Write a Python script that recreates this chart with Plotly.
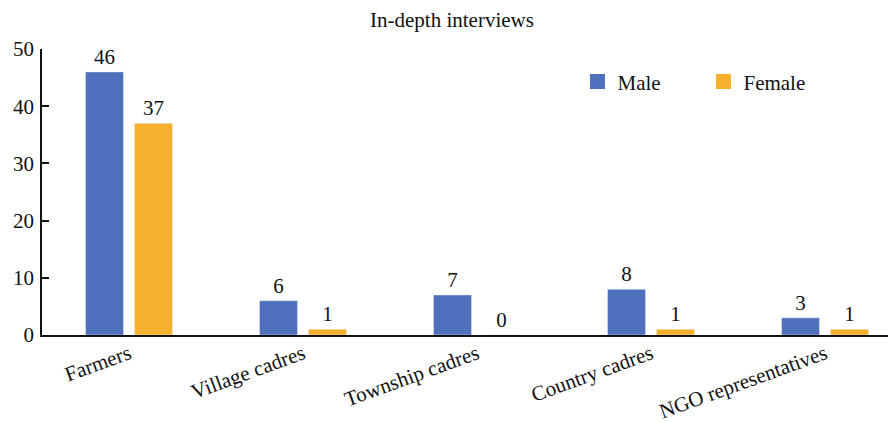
import plotly.graph_objects as go

categories = ["Farmers", "Village cadres", "Township cadres", "Country cadres", "NGO representatives"]
male = [46, 6, 7, 8, 3]
female = [37, 1, 0, 1, 1]
y_ticks = [0, 10, 20, 30, 40, 50]

FONT = "Liberation Serif"
BLUE = "#4F71BD"
ORANGE = "#F6B12C"
TXT = "#111"

fig = go.Figure()
fig.add_trace(go.Bar(x=categories, y=male, name="Male", marker_color=BLUE,
                     text=male, textposition="outside", cliponaxis=False, showlegend=False,
                     textfont=dict(family=FONT, size=21, color=TXT)))
fig.add_trace(go.Bar(x=categories, y=female, name="Female", marker_color=ORANGE,
                     text=female, textposition="outside", cliponaxis=False, showlegend=False,
                     textfont=dict(family=FONT, size=21, color=TXT)))
# legend entries with larger square swatches
for nm, col in (("Male", BLUE), ("Female", ORANGE)):
    fig.add_trace(go.Scatter(x=[None], y=[None], mode="markers", name=nm,
                             marker=dict(symbol="square", size=15, color=col)))

fig.update_layout(
    width=888, height=414,
    margin=dict(l=34, r=0, t=41, b=87),
    paper_bgcolor="white", plot_bgcolor="white",
    barmode="group", bargap=0.437, bargroupgap=0.224,
    font=dict(family=FONT, size=21, color=TXT),
    title=dict(text="In-depth interviews", x=0.5, xanchor="center", y=0.973, yanchor="middle",
               font=dict(family=FONT, size=21, color=TXT)),
    legend=dict(orientation="h", x=0.627, y=0.885, xanchor="left", yanchor="middle",
                font=dict(family=FONT, size=21, color=TXT), itemwidth=30,
                entrywidth=81, bgcolor="rgba(0,0,0,0)"),
    showlegend=True,
)
fig.update_xaxes(range=[-0.5, 4.408], showline=True, linecolor=TXT, linewidth=1.5,
                 ticks="", tickangle=-20, showgrid=False, automargin=False,
                 ticklabelstandoff=-3,
                 tickfont=dict(family=FONT, size=21, color=TXT))
fig.update_yaxes(range=[0, 50], tickvals=y_ticks, showline=True, linecolor=TXT, linewidth=1.5,
                 ticks="inside", ticklen=7, tickcolor=TXT, tickwidth=1.5,
                 showgrid=False, zeroline=False, ticklabelstandoff=2,
                 automargin=False,
                 tickfont=dict(family=FONT, size=21, color=TXT))

fig.write_html("out.html")
